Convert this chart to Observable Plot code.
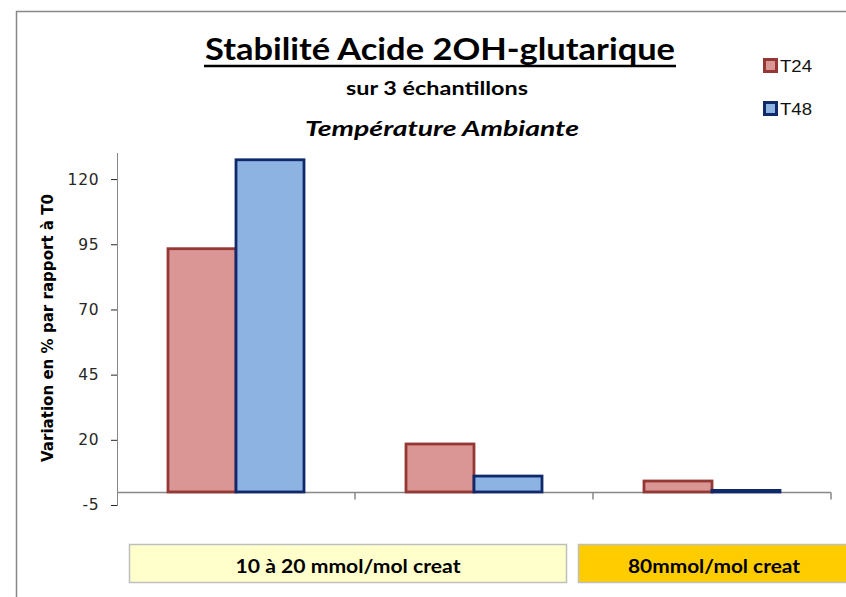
<!DOCTYPE html>
<html>
<head>
<meta charset="utf-8">
<script src="https://cdn.jsdelivr.net/npm/d3@7"></script>
<script src="https://cdn.jsdelivr.net/npm/@observablehq/plot@0.6"></script>
<style>
  body { margin: 0; background: #fff; }
  #wrap { position: relative; width: 846px; height: 597px; overflow: hidden; background: #fff; }
  #wrap > svg { position: absolute; left: 0; top: 0; }
  #chart line { stroke: #878787; }
  #overlay { pointer-events: none; }
</style>
</head>
<body>
<div id="wrap"></div>
<script>
// ---- data ----
const groups = ["Échantillon 1", "Échantillon 2", "Échantillon 3"];
const series = ["T24", "T48"];
const t24 = [93.3, 18.4, 4.2];
const t48 = [127.4, 6.1, 0.6];
const yTicks = [-5, 20, 45, 70, 95, 120];
const yDomain = [-5, 130];
const rangeLabels = ["10 à 20  mmol/mol creat", "80mmol/mol creat"];
const titleText = "Stabilité Acide 2OH-glutarique";
const subtitleText = "sur 3 échantillons";
const conditionText = "Température  Ambiante";
const yLabelText = "Variation  en % par rapport à T0";

// ---- styles ----
const fills = {T24: "#D99694", T48: "#8DB3E2"};
const strokes = {T24: "#953735", T48: "#10296A"};

const table = groups.flatMap((g, i) => [
  {group: g, series: "T24", value: t24[i]},
  {group: g, series: "T48", value: t48[i]}
]);

const bandTicks = (index, scales, values, dimensions, context, next) => {
  const g = next(index, scales, values, dimensions, context);
  const y0 = scales.y(0);
  const xr = scales.x.range();
  const right = Math.max(...xr);
  d3.select(g).append("line")
    .attr("x1", right).attr("x2", right)
    .attr("y1", y0).attr("y2", y0 + 7)
    .attr("stroke", "#a6a6a6").attr("stroke-width", 1.5);
  return g;
};

const chart = Plot.plot({
  width: 846,
  height: 597,
  marginLeft: 117,
  marginRight: 15,
  marginTop: 153,
  marginBottom: 92,
  facet: {data: table, x: "group"},
  fx: {domain: groups, padding: 0, axis: null, label: null},
  x: {domain: series, paddingInner: 0, paddingOuter: 0.75, axis: null},
  y: {
    domain: yDomain,
    ticks: yTicks,
    tickFormat: d => String(d),
    tickSize: 6,
    tickPadding: 12,
    line: true,
    label: null
  },
  style: {
    fontFamily: "'DejaVu Sans', Verdana, sans-serif",
    fontSize: "15.5px",
    letterSpacing: "0.8px",
    color: "#262626",
    background: "transparent"
  },
  marks: [
    Plot.ruleY([0], {stroke: "#878787", strokeWidth: 1.5, render: bandTicks}),
    Plot.barY(table, {
      filter: d => d.series === "T24",
      x: "series", y: "value", fill: fills.T24, stroke: strokes.T24, strokeWidth: 2.8
    }),
    Plot.barY(table, {
      filter: d => d.series === "T48",
      x: "series", y: "value", fill: fills.T48, stroke: strokes.T48, strokeWidth: 2.8
    })
  ]
});
chart.setAttribute("id", "chart");
const wrap = document.getElementById("wrap");
wrap.append(chart);

// ---- overlay: frame, titles, legend, range boxes ----
const ov = d3.select(wrap).append("svg")
  .attr("id", "overlay")
  .attr("width", 846).attr("height", 597);

ov.append("path")
  .attr("d", "M16.5,597 V11.5 H846")
  .attr("fill", "none").attr("stroke", "#878787").attr("stroke-width", 1.5);

function txt(str, x, y, opts) {
  const t = ov.append("text")
    .attr("x", x).attr("y", y)
    .attr("text-anchor", opts.anchor || "middle")
    .attr("font-family", opts.family || "Lato, sans-serif")
    .attr("font-size", opts.size)
    .attr("font-weight", opts.weight || "bold")
    .attr("font-style", opts.style || "normal")
    .attr("fill", opts.fill || "#000")
    .text(str);
  if (opts.len) t.attr("textLength", opts.len).attr("lengthAdjust", "spacingAndGlyphs");
  if (opts.transform) t.attr("transform", opts.transform);
  return t;
}

txt(titleText, 440, 60, {size: 31, len: 470});
ov.append("line").attr("x1", 204).attr("x2", 676).attr("y1", 66).attr("y2", 66)
  .attr("stroke", "#000").attr("stroke-width", 2.4);
txt(subtitleText, 437, 95, {size: 18.5, len: 182});
txt(conditionText, 442, 136, {size: 21, len: 274, style: "italic"});

// y label
txt(yLabelText, 0, 0, {size: 15, len: 268, family: "'DejaVu Sans', Verdana, sans-serif",
  transform: "translate(53,328) rotate(-90)", fill: "#000"});

// legend
series.forEach((s, i) => {
  const cy = [65.5, 108.5][i];
  ov.append("rect").attr("x", 764.5).attr("y", cy - 6).attr("width", 12).attr("height", 12)
    .attr("fill", fills[s]).attr("stroke", strokes[s]).attr("stroke-width", 3);
  txt(s, 780, cy + 6, {size: 16.5, len: 32, anchor: "start", weight: "normal",
    family: "'Liberation Sans', Arial, sans-serif", fill: "#111"});
});

// range boxes
const boxes = [
  {x: 129, w: 437, fill: "#FFFFCC", cx: 348, len: 225},
  {x: 578, w: 280, fill: "#FFCC00", cx: 714, len: 172}
];
boxes.forEach((b, i) => {
  ov.append("rect").attr("x", b.x + 0.5).attr("y", 544.5).attr("width", b.w).attr("height", 38)
    .attr("fill", b.fill).attr("stroke", "#BFBFBF").attr("stroke-width", 1.5);
  txt(rangeLabels[i], b.cx, 573, {size: 19.5, len: b.len});
});
</script>
</body>
</html>
